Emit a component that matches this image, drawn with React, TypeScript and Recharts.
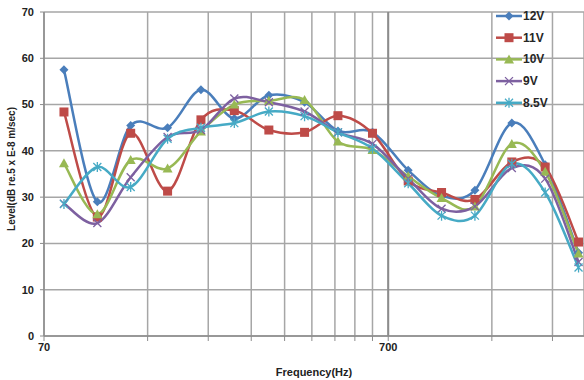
import React from 'react';
import { LineChart, Line, XAxis, YAxis, CartesianGrid, ReferenceLine } from 'recharts';

const freqs = [80, 100, 125, 160, 200, 250, 315, 400, 500, 630, 800, 1000, 1250, 1600, 2000, 2500];
const v12 = [57.5, 29, 45.5, 45, 53.2, 47, 52, 50.5, 44.3, 44, 35.8, 30.3, 31.5, 46, 37, 18];
const v11 = [48.4, 25.7, 43.8, 31.3, 46.7, 48.7, 44.5, 44, 47.6, 43.8, 33.5, 31, 29.5, 37.6, 36.5, 20.3];
const v10 = [37.3, 26.3, 38, 36.2, 44.2, 50, 50.8, 51, 42, 40.2, 34.5, 29.8, 28, 41.5, 35.5, 17.8];
const v9 = [28.6, 24.4, 34.3, 43, 44.5, 51.3, 50.5, 48.5, 44, 41.5, 34, 27.5, 28, 36.3, 34, 16];
const v85 = [28.5, 36.5, 32.2, 42.6, 45, 46, 48.5, 47.5, 44, 40.5, 33, 26, 26, 37.2, 31, 14.8];

const xTicks = [70, 140, 210, 280, 350, 420, 490, 560, 630, 700, 1400, 2100];
const xLabels = [70, 700];
const yTicks = [0, 10, 20, 30, 40, 50, 60, 70];

const data = freqs.map((f, i) => ({ f, v12: v12[i], v11: v11[i], v10: v10[i], v9: v9[i], v85: v85[i] }));

// excel-ish smoothed line (catmull-rom through every point)
const smooth = (ctx: any) => {
  let pts: number[][] = [];
  return {
    areaStart() {},
    areaEnd() {},
    lineStart() { pts = []; },
    point(x: number, y: number) { pts.push([+x, +y]); },
    lineEnd() {
      if (!pts.length) return;
      ctx.moveTo(pts[0][0], pts[0][1]);
      for (let i = 0; i < pts.length - 1; i++) {
        const p0 = pts[i - 1] || pts[i];
        const p1 = pts[i];
        const p2 = pts[i + 1];
        const p3 = pts[i + 2] || p2;
        ctx.bezierCurveTo(
          p1[0] + (p2[0] - p0[0]) / 6, p1[1] + (p2[1] - p0[1]) / 6,
          p2[0] - (p3[0] - p1[0]) / 6, p2[1] - (p3[1] - p1[1]) / 6,
          p2[0], p2[1]
        );
      }
    },
  };
};

type Shape = 'diamond' | 'square' | 'triangle' | 'x' | 'star';

function marker(shape: Shape, color: string, cx: number, cy: number, key?: any) {
  if (shape === 'diamond')
    return <path key={key} d={`M${cx},${cy - 4.5}L${cx + 4.5},${cy}L${cx},${cy + 4.5}L${cx - 4.5},${cy}Z`} fill={color} />;
  if (shape === 'square') return <rect key={key} x={cx - 4.5} y={cy - 4.5} width={9} height={9} fill={color} />;
  if (shape === 'triangle')
    return <path key={key} d={`M${cx},${cy - 5}L${cx + 5},${cy + 4}L${cx - 5},${cy + 4}Z`} fill={color} />;
  if (shape === 'x')
    return (
      <path key={key} d={`M${cx - 4},${cy - 4}L${cx + 4},${cy + 4}M${cx - 4},${cy + 4}L${cx + 4},${cy - 4}`} stroke={color} strokeWidth={1.3} />
    );
  return (
    <path
      key={key}
      d={`M${cx - 4},${cy - 4}L${cx + 4},${cy + 4}M${cx - 4},${cy + 4}L${cx + 4},${cy - 4}M${cx},${cy - 5}L${cx},${cy + 5}`}
      stroke={color}
      strokeWidth={1.3}
    />
  );
}

const series: { key: string; name: string; color: string; shape: Shape }[] = [
  { key: 'v12', name: '12V', color: '#4a7ebb', shape: 'diamond' },
  { key: 'v11', name: '11V', color: '#be4b48', shape: 'square' },
  { key: 'v10', name: '10V', color: '#98b954', shape: 'triangle' },
  { key: 'v9', name: '9V', color: '#7d60a0', shape: 'x' },
  { key: 'v85', name: '8.5V', color: '#46aac5', shape: 'star' },
];

const LegendBox = () => (
  <svg width={70} height={110} style={{ position: 'absolute', left: 494, top: 8, fontFamily: '"Liberation Sans", Arial, sans-serif' }}>
    {series.map((s, i) => {
      const y = 8 + i * 21.7;
      return (
        <g key={s.key}>
          <line x1={2} x2={28} y1={y} y2={y} stroke={s.color} strokeWidth={2.5} />
          {marker(s.shape, s.color, 15, y)}
          <text x={29} y={y + 4} fontSize={12} fontWeight="bold" fill="#262626">
            {s.name}
          </text>
        </g>
      );
    })}
  </svg>
);

export default function App() {
  return (
    <div style={{ position: 'absolute', left: 0, top: 0, width: 584, height: 380, background: '#fff' }}>
      <LineChart
        width={584}
        height={380}
        data={data}
        margin={{ top: 12, right: 0, bottom: 0, left: 0 }}
        style={{ fontFamily: '"Liberation Sans", Arial, sans-serif' }}
      >
        <CartesianGrid stroke="#a6a6a6" strokeWidth={1.5} />
        <ReferenceLine x={700} stroke="#8c8c8c" strokeWidth={2} />
        <XAxis
          dataKey="f"
          type="number"
          scale="log"
          domain={[70, 2593]}
          allowDataOverflow
          ticks={xTicks}
          interval={0}
          tickFormatter={(v) => (xLabels.includes(v) ? String(v) : '')}
          height={44}
          tick={{ fontSize: 11, fontWeight: 'bold', fill: '#222' }}
          tickSize={5}
          tickLine={{ stroke: '#8c8c8c' }}
          axisLine={{ stroke: '#8c8c8c', strokeWidth: 1.5 }}
          label={{ value: 'Frequency(Hz)', position: 'insideBottom', offset: 4, style: { fontSize: 11, fontWeight: 'bold', fill: '#222' } }}
        />
        <YAxis
          domain={[0, 70]}
          ticks={yTicks}
          interval={0}
          width={44}
          tick={{ fontSize: 11, fontWeight: 'bold', fill: '#222' }}
          tickSize={4}
          tickMargin={6}
          tickLine={{ stroke: '#8c8c8c' }}
          axisLine={{ stroke: '#8c8c8c', strokeWidth: 1.5 }}
          label={{
            value: 'Level(dB re.5 x E-8 m/sec)',
            angle: -90,
            position: 'insideLeft',
            offset: 11,
            dy: -5,
            style: { fontSize: 10, fontWeight: 'bold', fill: '#222', textAnchor: 'middle' },
          }}
        />
        {series.map((s) => (
          <Line
            key={s.key}
            dataKey={s.key}
            name={s.name}
            type={smooth as any}
            stroke={s.color}
            strokeWidth={2.5}
            isAnimationActive={false}
            dot={(p: any) => marker(s.shape, s.color, p.cx, p.cy, `${s.key}-${p.index}`)}
            activeDot={false}
          />
        ))}
      </LineChart>
      <LegendBox />
    </div>
  );
}
